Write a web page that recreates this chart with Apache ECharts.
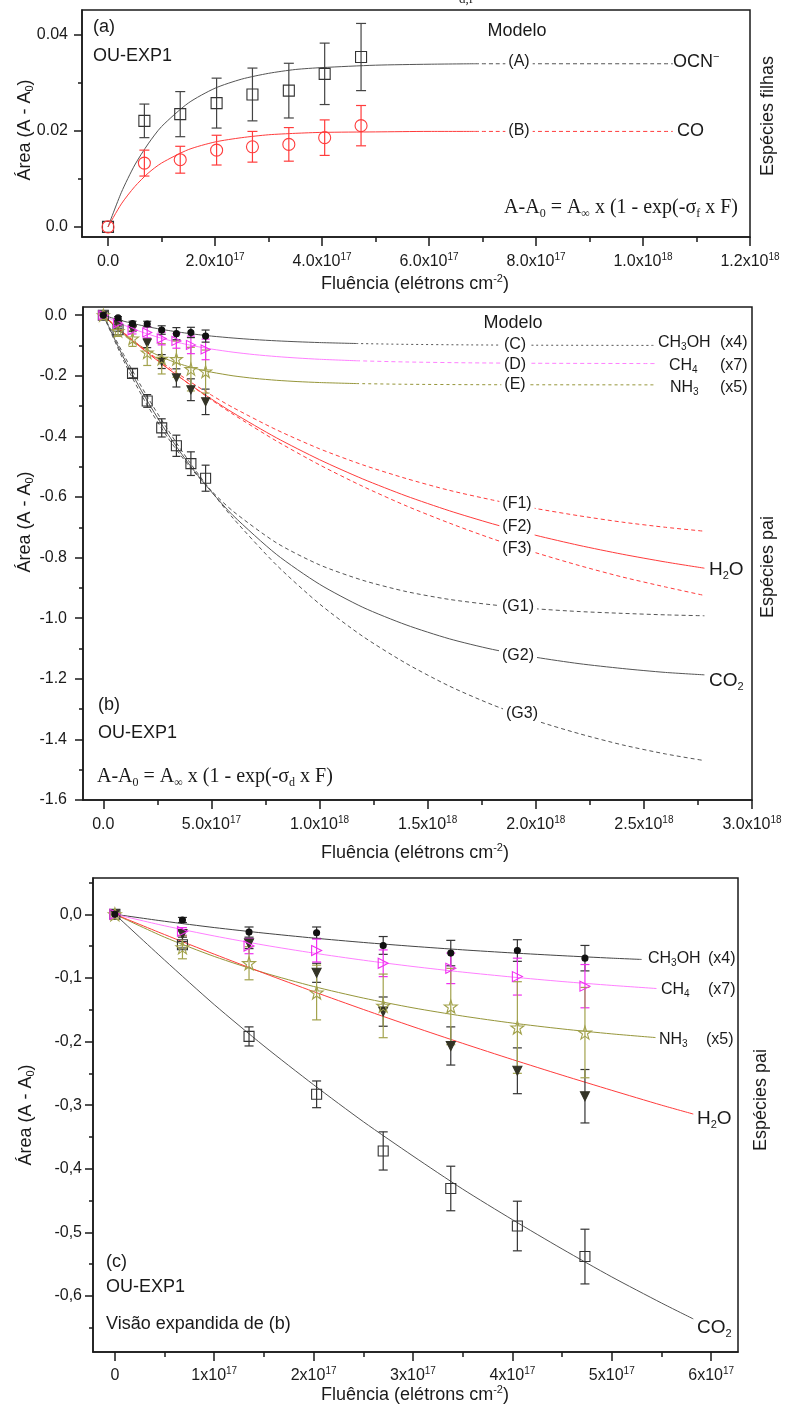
<!DOCTYPE html>
<html><head><meta charset="utf-8">
<script src="https://cdn.jsdelivr.net/npm/echarts@6/dist/echarts.min.js"></script>
<style>html,body{margin:0;padding:0;background:#fff}#c{width:785px;height:1411px}</style>
</head><body><div id="c"></div>
<script>
// ---------------- DATA ----------------
// fluence in units of 1e17 electrons cm-2
const fluence   = [0, 0.68, 1.35, 2.03, 2.70, 3.38, 4.05, 4.73];
// panel (a) daughter species
const ocnArea   = [0, 0.0221, 0.0235, 0.0258, 0.0276, 0.0284, 0.0319, 0.0354];
const ocnErr    = [0, 0.0035, 0.0047, 0.0052, 0.0055, 0.0057, 0.0064, 0.0070];
const coArea    = [0, 0.0133, 0.0140, 0.0160, 0.0167, 0.0172, 0.0186, 0.0211];
const coErr     = [0, 0.0027, 0.0028, 0.0031, 0.0032, 0.0035, 0.0037, 0.0042];
// panels (b),(c) parent species
const ch3ohArea = [0, -0.009, -0.028, -0.029, -0.049, -0.061, -0.057, -0.069];
const ch3ohErr  = [0, 0.004, 0.008, 0.009, 0.014, 0.020, 0.017, 0.020];
const ch4Area   = [0, -0.027, -0.050, -0.057, -0.077, -0.085, -0.098, -0.113];
const ch4Err    = [0, 0.006, 0.012, 0.018, 0.021, 0.024, 0.029, 0.034];
const nh3Area   = [0, -0.052, -0.077, -0.123, -0.144, -0.145, -0.178, -0.186];
const nh3Err    = [0, 0.018, 0.026, 0.043, 0.050, 0.060, 0.072, 0.071];
const h2oArea   = [0, -0.031, -0.046, -0.092, -0.153, -0.207, -0.246, -0.286];
const h2oErr    = [0, 0.005, 0.008, 0.015, 0.023, 0.030, 0.036, 0.042];
const co2Area   = [0, -0.048, -0.192, -0.283, -0.372, -0.431, -0.490, -0.538];
const co2Err    = [0, 0.005, 0.015, 0.021, 0.030, 0.035, 0.039, 0.043];

// model curves, panel (a)
const modelA_F  = [0, 0.25, 0.5, 0.75, 1, 1.5, 2, 2.5, 3, 3.5, 4, 5, 6, 6.86];
const modelOCN  = [0, 0.0072, 0.0129, 0.0173, 0.0209, 0.0258, 0.0289, 0.0308, 0.0320, 0.0328, 0.0332, 0.0337, 0.0339, 0.0340];
const modelCO   = [0, 0.0048, 0.0084, 0.0112, 0.0133, 0.0161, 0.0177, 0.0186, 0.0192, 0.0195, 0.0197, 0.0198, 0.0199, 0.0199];
const extA_F    = [6.86, 10.56];
const extOCN    = [0.0340, 0.0340];
const extCO     = [0.0199, 0.0199];

// model curves, panel (b): C (CH3OH), D (CH4), E (NH3)
const modelCDE_F = [0, 0.5, 1, 1.5, 2, 2.5, 3, 3.5, 4, 4.5, 5, 6, 7, 8, 9, 10, 11.7];
const modelC = [0, -0.011, -0.0209, -0.0296, -0.0374, -0.0443, -0.0504, -0.0559, -0.0608, -0.0651, -0.069, -0.0754, -0.0806, -0.0846, -0.0878, -0.0904, -0.0935];
const modelD = [0, -0.0181, -0.0341, -0.0484, -0.061, -0.0722, -0.0821, -0.0909, -0.0987, -0.1057, -0.1118, -0.1221, -0.1302, -0.1365, -0.1415, -0.1455, -0.1504];
const modelE = [0, -0.036, -0.0663, -0.0919, -0.1135, -0.1317, -0.1471, -0.16, -0.171, -0.1802, -0.188, -0.2001, -0.2087, -0.2148, -0.2192, -0.2223, -0.2257];
const extCDE_F = [11.7, 14, 17, 20, 25.5];
const extC = [-0.0935, -0.0962, -0.0981, -0.0991, -0.0997];
const extD = [-0.1504, -0.1544, -0.1573, -0.1587, -0.1597];
const extE = [-0.2257, -0.228, -0.2293, -0.2297, -0.23];

// model curves, panel (b): F (H2O), G (CO2)
const modelFG_F = [0, 1, 2, 3, 4, 5, 6, 8, 10, 12, 14, 16, 18, 20, 22, 24, 26, 27.8];
const modelF1 = [0, -0.0615, -0.118, -0.1707, -0.219, -0.2638, -0.305, -0.378, -0.441, -0.494, -0.539, -0.578, -0.610, -0.638, -0.662, -0.683, -0.700, -0.713];
const modelF2 = [0, -0.0627, -0.1216, -0.1767, -0.2283, -0.2767, -0.3221, -0.4045, -0.4769, -0.5405, -0.5964, -0.6454, -0.6885, -0.7264, -0.7596, -0.7888, -0.8145, -0.835];
const modelF3 = [0, -0.0619, -0.121, -0.1764, -0.229, -0.2794, -0.327, -0.415, -0.494, -0.565, -0.629, -0.686, -0.738, -0.784, -0.826, -0.864, -0.897, -0.925];
const modelG1 = [0, -0.159, -0.293, -0.406, -0.501, -0.580, -0.647, -0.751, -0.824, -0.875, -0.912, -0.938, -0.956, -0.969, -0.978, -0.984, -0.989, -0.992];
const modelG2 = [0, -0.149, -0.279, -0.394, -0.495, -0.583, -0.661, -0.789, -0.888, -0.964, -1.022, -1.068, -1.103, -1.129, -1.150, -1.166, -1.179, -1.187];
const modelG3 = [0, -0.138, -0.265, -0.380, -0.486, -0.582, -0.670, -0.824, -0.953, -1.060, -1.149, -1.224, -1.286, -1.338, -1.381, -1.418, -1.448, -1.470];

// model curves, panel (c) (expanded view)
const zoomC_F   = [0, 0.5, 1, 1.5, 2, 2.5, 3, 3.5, 4, 4.5, 5, 5.3];
const zoomC     = [0, -0.011, -0.0209, -0.0296, -0.0374, -0.0443, -0.0504, -0.0559, -0.0608, -0.0651, -0.069, -0.071];
const zoomD_F   = [0, 0.5, 1, 1.5, 2, 2.5, 3, 3.5, 4, 4.5, 5, 5.45];
const zoomD     = [0, -0.0181, -0.0341, -0.0484, -0.061, -0.0722, -0.0821, -0.0909, -0.0987, -0.1057, -0.1118, -0.1167];
const zoomE_F   = [0, 0.5, 1, 1.5, 2, 2.5, 3, 3.5, 4, 4.5, 5, 5.44];
const zoomE     = [0, -0.036, -0.0663, -0.0919, -0.1135, -0.1317, -0.1471, -0.16, -0.171, -0.1802, -0.188, -0.1938];
const zoomFG_F  = [0, 0.5, 1, 1.5, 2, 2.5, 3, 3.5, 4, 4.5, 5, 5.5, 5.82];
const zoomF     = [0, -0.0319, -0.0627, -0.0926, -0.1216, -0.1496, -0.1767, -0.2029, -0.2283, -0.2529, -0.2767, -0.300, -0.314];
const zoomG     = [0, -0.072, -0.142, -0.207, -0.268, -0.326, -0.38, -0.432, -0.48, -0.526, -0.570, -0.611, -0.636];

// tick values & labels
const aXTicks = [0, 2, 4, 6, 8, 10, 12];
const aXLabels = ['0.0', '2.0x10^17', '4.0x10^17', '6.0x10^17', '8.0x10^17', '1.0x10^18', '1.2x10^18'];
const aXMinor = [1, 3, 5, 7, 9, 11];
const aYTicks = [0, 0.02, 0.04];
const aYLabels = ['0.0', '0.02', '0.04'];
const aYMinor = [0.01, 0.03];
const bXTicks = [0, 5, 10, 15, 20, 25, 30];
const bXLabels = ['0.0', '5.0x10^17', '1.0x10^18', '1.5x10^18', '2.0x10^18', '2.5x10^18', '3.0x10^18'];
const bXMinor = [2.5, 7.5, 12.5, 17.5, 22.5, 27.5];
const bYTicks = [0, -0.2, -0.4, -0.6, -0.8, -1.0, -1.2, -1.4, -1.6];
const bYLabels = ['0.0', '-0.2', '-0.4', '-0.6', '-0.8', '-1.0', '-1.2', '-1.4', '-1.6'];
const bYMinor = [-0.1, -0.3, -0.5, -0.7, -0.9, -1.1, -1.3, -1.5];
const cXTicks = [0, 1, 2, 3, 4, 5, 6];
const cXLabels = ['0', '1x10^17', '2x10^17', '3x10^17', '4x10^17', '5x10^17', '6x10^17'];
const cXMinor = [0.5, 1.5, 2.5, 3.5, 4.5, 5.5];
const cYTicks = [0, -0.1, -0.2, -0.3, -0.4, -0.5, -0.6];
const cYLabels = ['0,0', '-0,1', '-0,2', '-0,3', '-0,4', '-0,5', '-0,6'];
const cYMinor = [0.05, -0.05, -0.15, -0.25, -0.35, -0.45, -0.55, -0.65];

// ---------------- STYLE ----------------
const FONT = '"Liberation Sans", Arial, sans-serif';
const SERIF = '"Liberation Serif", "Times New Roman", serif';
const INK = '#1a1a1a';
const GRAY = '#555555';
const RED = '#ff3c3c';
const PINK_L = '#ff7fff';
const PINK = '#f030f0';
const OLIVE_L = '#96963a';
const OLIVE = '#a2a24c';
const DARK = '#333326';
const STAR = 'path://M50,2 L61,36 L97,36 L68,57 L79,92 L50,71 L21,92 L32,57 L3,36 L39,36 Z';
const RTRI = 'path://M0,0 L10,5 L0,10 Z';

const chart = echarts.init(document.getElementById('c'), null, {renderer: 'canvas'});

function tickRich(size) {
  return {
    n: {fontFamily: FONT, fontSize: size, color: INK, lineHeight: 20},
    sup: {fontFamily: FONT, fontSize: Math.round(size * 0.62), color: INK, lineHeight: 8, verticalAlign: 'top'}
  };
}
function fmt(ticks, labels) {
  return function (v) {
    for (let i = 0; i < ticks.length; i++) {
      if (Math.abs(ticks[i] - v) < 1e-9) {
        const s = labels[i];
        const k = s.indexOf('^');
        return k < 0 ? '{n|' + s + '}' : '{n|' + s.slice(0, k) + '}{sup|' + s.slice(k + 1) + '}';
      }
    }
    return '';
  };
}
const axLine = {show: true, onZero: false, lineStyle: {color: INK, width: 1.5}};
function mainX(gi, min, max, ticks, labels, margin) {
  return {gridIndex: gi, type: 'value', min, max, position: 'bottom',
    axisLine: axLine,
    axisTick: {show: true, inside: false, length: 9, customValues: ticks, lineStyle: {color: INK, width: 1.5}},
    axisLabel: {show: true, customValues: ticks, formatter: fmt(ticks, labels), rich: tickRich(16), margin},
    splitLine: {show: false}};
}
function minorX(gi, min, max, vals) {
  return {gridIndex: gi, type: 'value', min, max, position: 'bottom',
    axisLine: {show: false, onZero: false}, axisLabel: {show: false}, splitLine: {show: false},
    axisTick: {show: true, inside: false, length: 5, customValues: vals, lineStyle: {color: INK, width: 1.5}}};
}
function mainY(gi, min, max, ticks, labels, margin) {
  return {gridIndex: gi, type: 'value', min, max, position: 'left',
    axisLine: axLine,
    axisTick: {show: true, inside: false, length: 8, customValues: ticks, lineStyle: {color: INK, width: 1.5}},
    axisLabel: {show: true, customValues: ticks, formatter: fmt(ticks, labels), rich: tickRich(16), margin},
    splitLine: {show: false}};
}
function minorY(gi, min, max, vals) {
  return {gridIndex: gi, type: 'value', min, max, position: 'left',
    axisLine: {show: false, onZero: false}, axisLabel: {show: false}, splitLine: {show: false},
    axisTick: {show: true, inside: false, length: 4, customValues: vals, lineStyle: {color: INK, width: 1.5}}};
}
function pairs(xs, ys) { return xs.map((x, i) => [x, ys[i]]); }
function curve(gi, xs, ys, color, type, width) {
  return {type: 'line', xAxisIndex: gi * 2, yAxisIndex: gi * 2, data: pairs(xs, ys),
    showSymbol: false, symbol: 'none', smooth: 0.25, silent: true, z: 2,
    lineStyle: {color, width: width || 1, type: type || 'solid'}};
}
function errBars(gi, xs, ys, es, color, cap) {
  return {type: 'custom', xAxisIndex: gi * 2, yAxisIndex: gi * 2, z: 3, silent: true,
    data: xs.map((x, i) => [x, ys[i], es[i]]),
    renderItem: function (params, api) {
      const x = api.value(0), y = api.value(1), e = api.value(2);
      if (!e) return null;
      const p1 = api.coord([x, y + e]), p2 = api.coord([x, y - e]);
      const st = {stroke: color, lineWidth: 1.2};
      return {type: 'group', children: [
        {type: 'line', shape: {x1: p1[0], y1: p1[1], x2: p2[0], y2: p2[1]}, style: st},
        {type: 'line', shape: {x1: p1[0] - cap, y1: p1[1], x2: p1[0] + cap, y2: p1[1]}, style: st},
        {type: 'line', shape: {x1: p2[0] - cap, y1: p2[1], x2: p2[0] + cap, y2: p2[1]}, style: st}
      ]};
    }};
}
function marks(gi, xs, ys, symbol, size, fill, stroke, rotate) {
  return {type: 'scatter', xAxisIndex: gi * 2, yAxisIndex: gi * 2, z: 4, silent: true,
    data: pairs(xs, ys), symbol, symbolSize: size, symbolRotate: rotate || 0,
    itemStyle: {color: fill, borderColor: stroke, borderWidth: 1.1, opacity: 1}};
}
const OPEN = 'rgba(255,255,255,0)';

// ---------------- TEXT ----------------
function richFor(size, family) {
  return {
    sub: {fontFamily: family, fontSize: Math.round(size * 0.6), fill: INK, color: INK, lineHeight: 7, verticalAlign: 'bottom'},
    sup: {fontFamily: family, fontSize: Math.round(size * 0.62), fill: INK, color: INK, lineHeight: 7, verticalAlign: 'top'}
  };
}
function txt(x, y, text, o) {
  o = o || {};
  const size = o.size || 18, family = o.family || FONT;
  const st = {text, font: size + 'px ' + family, fill: o.color || INK,
    align: o.align || 'left', verticalAlign: 'middle', rich: richFor(size, family), lineHeight: Math.round(size * 1.15)};
  if (o.bg) { st.backgroundColor = '#fff'; st.padding = [0, 3]; }
  return {type: 'text', x, y, z: 100, zlevel: 0, rotation: o.rot || 0, silent: true, style: st};
}
const R90 = Math.PI / 2;
const title = 'Fluência (elétrons cm{sup|-2})';
const yTitle = 'Área (A - A{sub|0})';

const texts = [
  txt(466, 0, 'd,f', {size: 13, family: SERIF, align: 'center'}),
  // panel (a)
  txt(93, 27, '(a)'),
  txt(93, 56, 'OU-EXP1'),
  txt(517, 31, 'Modelo', {align: 'center'}),
  txt(519, 62, '(A)', {size: 16, align: 'center', bg: true}),
  txt(673, 62, 'OCN{sup|−}', {size: 18}),
  txt(519, 131, '(B)', {size: 16, align: 'center', bg: true}),
  txt(677, 131, 'CO', {size: 18}),
  txt(738, 208, 'A-A{sub|0} = A{sub|∞} x (1 - exp(-σ{sub|f} x F)', {size: 20, family: SERIF, align: 'right'}),
  txt(25, 130, yTitle, {rot: R90, align: 'center'}),
  txt(768, 116, 'Espécies filhas', {rot: R90, align: 'center'}),
  txt(415, 284, title, {align: 'center'}),
  // panel (b)
  txt(513, 323, 'Modelo', {align: 'center'}),
  txt(515, 345, '(C)', {size: 16, align: 'center', bg: true}),
  txt(515, 365, '(D)', {size: 16, align: 'center', bg: true}),
  txt(515, 385, '(E)', {size: 16, align: 'center', bg: true}),
  txt(658, 343, 'CH{sub|3}OH', {size: 16}),
  txt(720, 343, '(x4)', {size: 16}),
  txt(669, 366, 'CH{sub|4}', {size: 16}),
  txt(720, 366, '(x7)', {size: 16}),
  txt(670, 388, 'NH{sub|3}', {size: 16}),
  txt(720, 388, '(x5)', {size: 16}),
  txt(517, 504, '(F1)', {size: 16, align: 'center', bg: true}),
  txt(517, 527, '(F2)', {size: 16, align: 'center', bg: true}),
  txt(517, 549, '(F3)', {size: 16, align: 'center', bg: true}),
  txt(709, 570, 'H{sub|2}O', {size: 19}),
  txt(518, 607, '(G1)', {size: 16, align: 'center', bg: true}),
  txt(518, 656, '(G2)', {size: 16, align: 'center', bg: true}),
  txt(522, 714, '(G3)', {size: 16, align: 'center', bg: true}),
  txt(709, 681, 'CO{sub|2}', {size: 19}),
  txt(98, 705, '(b)'),
  txt(98, 733, 'OU-EXP1'),
  txt(97, 777, 'A-A{sub|0} = A{sub|∞} x (1 - exp(-σ{sub|d} x F)', {size: 20, family: SERIF}),
  txt(25, 522, yTitle, {rot: R90, align: 'center'}),
  txt(768, 567, 'Espécies pai', {rot: R90, align: 'center'}),
  txt(415, 853, title, {align: 'center'}),
  // panel (c)
  txt(648, 959, 'CH{sub|3}OH', {size: 16}),
  txt(708, 959, '(x4)', {size: 16}),
  txt(661, 990, 'CH{sub|4}', {size: 16}),
  txt(708, 990, '(x7)', {size: 16}),
  txt(659, 1040, 'NH{sub|3}', {size: 16}),
  txt(706, 1040, '(x5)', {size: 16}),
  txt(697, 1119, 'H{sub|2}O', {size: 19}),
  txt(697, 1328, 'CO{sub|2}', {size: 19}),
  txt(106, 1262, '(c)'),
  txt(106, 1287, 'OU-EXP1'),
  txt(106, 1324, 'Visão expandida de (b)'),
  txt(26, 1115, yTitle, {rot: R90, align: 'center'}),
  txt(761, 1100, 'Espécies pai', {rot: R90, align: 'center'}),
  txt(415, 1395, title, {align: 'center'})
];

// ---------------- OPTION ----------------
const gridStyle = {show: true, borderColor: INK, borderWidth: 1.5, backgroundColor: 'transparent', outerBoundsMode: 'none', containLabel: false};
const A = {xmin: -0.486, xmax: 12, ymin: -0.0021, ymax: 0.0452};
const B = {xmin: -0.94, xmax: 30, ymin: -1.6, ymax: 0.027};
const C = {xmin: -0.22, xmax: 6.27, ymin: -0.688, ymax: 0.057};

const series = [
  // (a)
  curve(0, modelA_F, modelOCN, GRAY),
  curve(0, extA_F, extOCN, GRAY, [4, 3]),
  curve(0, modelA_F, modelCO, RED),
  curve(0, extA_F, extCO, RED, [4, 3]),
  errBars(0, fluence, ocnArea, ocnErr, '#444', 5),
  errBars(0, fluence, coArea, coErr, RED, 5),
  marks(0, fluence, ocnArea, 'rect', 11, OPEN, '#333'),
  marks(0, fluence, coArea, 'circle', 12, OPEN, RED),
  // (b)
  curve(1, modelCDE_F, modelC, GRAY),
  curve(1, extCDE_F, extC, GRAY, [2, 3]),
  curve(1, modelCDE_F, modelD, PINK_L),
  curve(1, extCDE_F, extD, PINK_L, [4, 3]),
  curve(1, modelCDE_F, modelE, OLIVE_L),
  curve(1, extCDE_F, extE, OLIVE_L, [3, 3]),
  curve(1, modelFG_F, modelF1, RED, [4, 3]),
  curve(1, modelFG_F, modelF2, RED),
  curve(1, modelFG_F, modelF3, RED, [4, 3]),
  curve(1, modelFG_F, modelG1, GRAY, [4, 3]),
  curve(1, modelFG_F, modelG2, GRAY),
  curve(1, modelFG_F, modelG3, GRAY, [4, 3]),
  errBars(1, fluence, co2Area, co2Err, '#333', 4),
  errBars(1, fluence, h2oArea, h2oErr, '#333', 4),
  errBars(1, fluence, nh3Area, nh3Err, OLIVE, 4),
  errBars(1, fluence, ch4Area, ch4Err, PINK, 4),
  errBars(1, fluence, ch3ohArea, ch3ohErr, '#333', 4),
  marks(1, fluence, co2Area, 'rect', 10, OPEN, '#333'),
  marks(1, fluence, h2oArea, 'triangle', 8, DARK, DARK, 180),
  marks(1, fluence, nh3Area, STAR, 12, OPEN, OLIVE),
  marks(1, fluence, ch4Area, RTRI, 9, OPEN, PINK),
  marks(1, fluence, ch3ohArea, 'circle', 6, '#111', '#111'),
  // (c)
  curve(2, zoomC_F, zoomC, '#444'),
  curve(2, zoomD_F, zoomD, PINK_L),
  curve(2, zoomE_F, zoomE, OLIVE_L),
  curve(2, zoomFG_F, zoomF, RED),
  curve(2, zoomFG_F, zoomG, '#555'),
  errBars(2, fluence, co2Area, co2Err, '#333', 4.5),
  errBars(2, fluence, h2oArea, h2oErr, '#333', 4.5),
  errBars(2, fluence, ch3ohArea, ch3ohErr, '#333', 4.5),
  errBars(2, fluence, ch4Area, ch4Err, PINK, 4.5),
  errBars(2, fluence, nh3Area, nh3Err, OLIVE, 4.5),
  marks(2, fluence, co2Area, 'rect', 10, OPEN, '#333'),
  marks(2, fluence, h2oArea, 'triangle', 9, DARK, DARK, 180),
  marks(2, fluence, nh3Area, STAR, 13, OPEN, OLIVE),
  marks(2, fluence, ch4Area, RTRI, 10, OPEN, PINK),
  marks(2, fluence, ch3ohArea, 'circle', 6, '#111', '#111')
];

const option = {
  animation: false,
  backgroundColor: '#ffffff',
  textStyle: {fontFamily: FONT},
  grid: [
    Object.assign({left: 82, top: 10, width: 668, height: 227}, gridStyle),
    Object.assign({left: 83, top: 307, width: 669, height: 493}, gridStyle),
    Object.assign({left: 93, top: 878, width: 645, height: 474}, gridStyle)
  ],
  xAxis: [
    mainX(0, A.xmin, A.xmax, aXTicks, aXLabels, 15), minorX(0, A.xmin, A.xmax, aXMinor),
    mainX(1, B.xmin, B.xmax, bXTicks, bXLabels, 15), minorX(1, B.xmin, B.xmax, bXMinor),
    mainX(2, C.xmin, C.xmax, cXTicks, cXLabels, 14), minorX(2, C.xmin, C.xmax, cXMinor)
  ],
  yAxis: [
    mainY(0, A.ymin, A.ymax, aYTicks, aYLabels, 14), minorY(0, A.ymin, A.ymax, aYMinor),
    mainY(1, B.ymin, B.ymax, bYTicks, bYLabels, 16), minorY(1, B.ymin, B.ymax, bYMinor),
    mainY(2, C.ymin, C.ymax, cYTicks, cYLabels, 11), minorY(2, C.ymin, C.ymax, cYMinor)
  ],
  series,
  graphic: {elements: texts}
};
chart.setOption(option);
</script>
</body></html>
